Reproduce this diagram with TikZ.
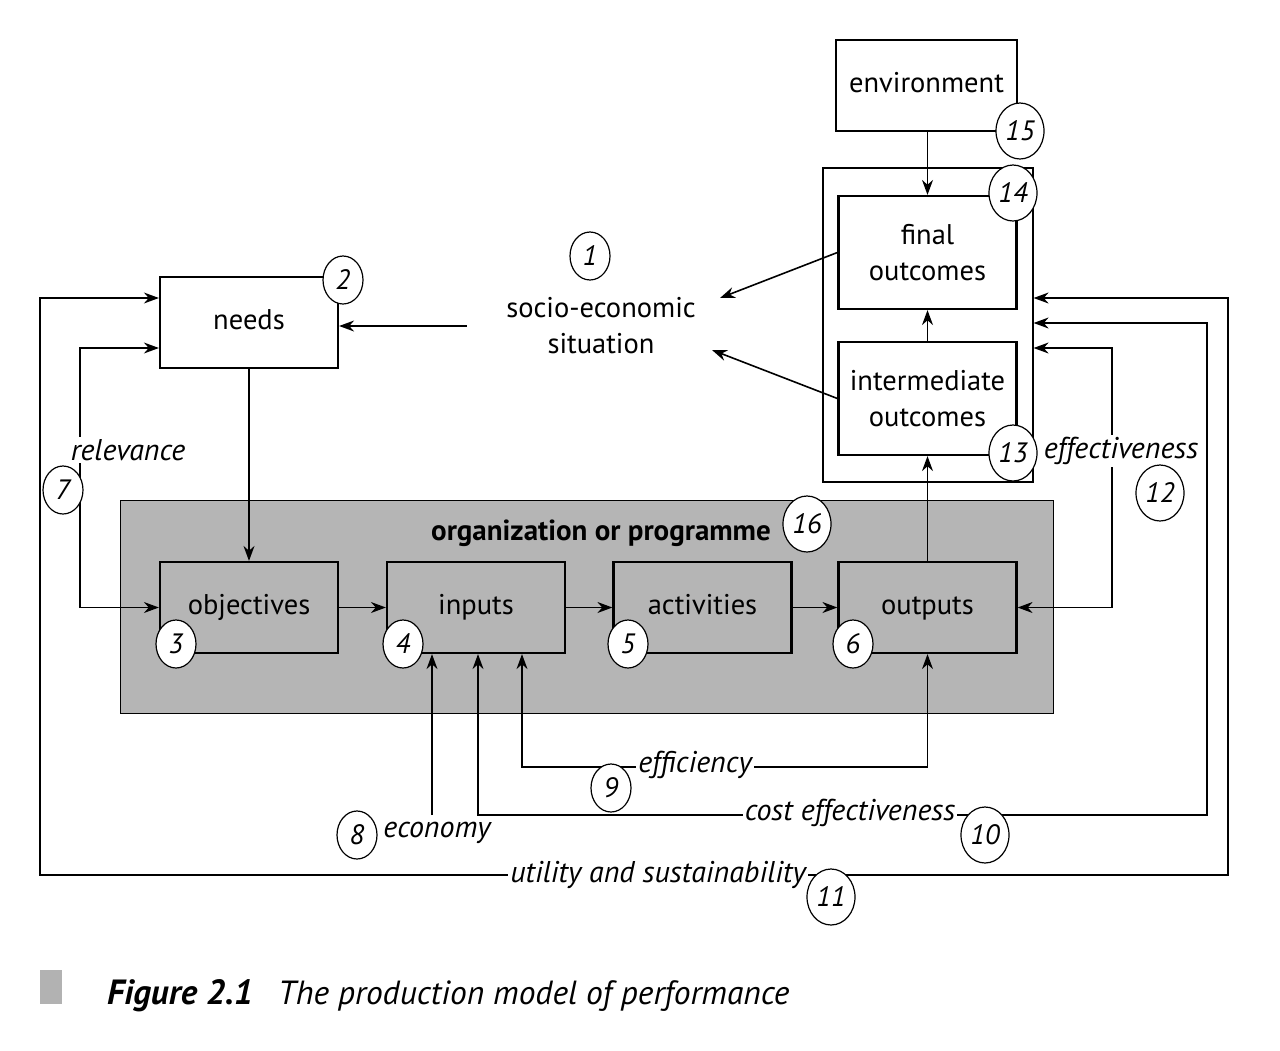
\documentclass[tikz,border=0pt]{standalone}
\usepackage{fontspec}
\setmainfont{PT Sans}
\usetikzlibrary{arrows.meta,shapes.geometric}
\begin{document}
\begin{tikzpicture}[x=1pt,y=-1pt,
  txt/.style={font=\fontsize{28.5}{36}\selectfont},
  box/.style={draw, line width=2.2pt, minimum width=178pt, minimum height=91pt, inner sep=0pt, align=center, txt},
  tall/.style={box, minimum height=113pt},
  num/.style={draw, fill=white, ellipse, line width=1.2pt, minimum width=40pt, minimum height=48pt, inner sep=0pt, font=\fontsize{28}{30}\selectfont\itshape},
  num2/.style={num, minimum width=48pt, minimum height=56pt},
  lab/.style={fill=white, inner sep=2pt, font=\fontsize{30}{32}\selectfont\itshape},
  arr/.style={line width=1.6pt, -{Stealth[length=15pt,width=11pt]}},
  darr/.style={line width=1.3pt, {Stealth[length=15pt,width=11pt]}-{Stealth[length=15pt,width=11pt]}},
]
\useasboundingbox (0,0) rectangle (1280,1050);

% organisation area
\node (org) [draw, fill=gray!58, line width=0.8pt, minimum width=933pt, minimum height=213pt, inner sep=0pt] at (586.5,606.5) {};
\node (orgt) [font=\fontsize{29}{32}\selectfont\bfseries] at (601,533) {organization or programme};

% boxes
\node (needs) [box] at (249,322.5) {needs\strut};
\node (obj) [box] at (249,607.5) {objectives\strut};
\node (inp) [box] at (476,607.5) {inputs\strut};
\node (act) [box] at (702.5,607.5) {activities\strut};
\node (outp) [box] at (927.5,607.5) {outputs\strut};
\node (env) [box, minimum width=181pt] at (926.5,85.5) {environment\strut};
\node (outbox) [draw, line width=1.2pt, minimum width=210pt, minimum height=314pt, inner sep=0pt] at (928,325) {};
\node (final) [tall] at (927.5,252.5) {final\\outcomes};
\node (inter) [tall] at (927.5,398.5) {intermediate\\outcomes};
\node (socio) [txt, align=center] at (601,326) {socio-economic\\situation};

\coordinate (sA) at (720,298);
\coordinate (sB) at (712,350);
\coordinate (eco) at (432,815);

% main connectors
\draw[arr] (env.south -| final.north) -- (final.north);
\draw[arr] (inter.north) -- (final.south);
\draw[arr] (outp.north) -- (inter.south);
\draw[arr] ([xshift=-36pt]socio.west) -- (socio.west -| needs.east);
\draw[arr] (final.west) -- (sA);
\draw[arr] (inter.west) -- (sB);
\draw[arr] (needs.south) -- (obj.north);
\draw[arr] (obj.east) -- (inp.west);
\draw[arr] (inp.east) -- (act.west);
\draw[arr] (act.east) -- (outp.west);

% feedback loops
\draw[darr] (needs.west |- 0,348) -| (obj.west -| 80,0) -- (obj.west);
\draw[darr] (needs.west |- 0,298) -| (40,875) -| (1228,298) -- (outbox.east |- 0,298);
\draw[darr] ([xshift=2pt]inp.south) |- (1207,815) |- (outbox.east |- 0,323);
\draw[darr] ([xshift=46pt]inp.south) |- (outp.south |- 0,767) -- (outp.south);
\draw[darr] (outp.east) -| (1112,348) -- (outbox.east |- 0,348);
\draw[arr, line width=1.3pt] (eco) -- (eco |- inp.south);

% labels
\node (lrel) [lab] at (128,450) {relevance};
\node (leff) [lab] at (695,765) {efficiency};
\node (lcost) [lab] at (850,813) {cost effectiveness};
\node (leco) [lab] at (437,833) {economy};
\node (lutil) [lab] at (658,875) {utility and sustainability};
\node (leffe) [lab] at (1121,451) {effectiveness};

% numbers
\node (n1) [num] at (590,256) {1};
\node (n2) [num] at (343,280) {2};
\node (n3) [num] at (176,644) {3};
\node (n4) [num] at (403,644) {4};
\node (n5) [num] at (628,644) {5};
\node (n6) [num] at (853,644) {6};
\node (n7) [num] at (63,490) {7};
\node (n8) [num] at (357,835) {8};
\node (n9) [num] at (611,788) {9};
\node (n10) [num2] at (985,835) {10};
\node (n11) [num2] at (831,897) {11};
\node (n12) [num2] at (1160,493) {12};
\node (n13) [num2] at (1013,453) {13};
\node (n14) [num2] at (1013,193) {14};
\node (n15) [num2] at (1020,131) {15};
\node (n16) [num2] at (807,524) {16};

% caption
\node (capsq) [fill=gray!60, minimum width=22pt, minimum height=34pt, inner sep=0pt] at (51,987) {};
\node (capf) [anchor=base west, inner sep=0pt, font=\fontsize{35}{40}\selectfont\bfseries\itshape] at (107,1004) {Figure 2.1};
\node (capt) [anchor=base west, inner sep=0pt, font=\fontsize{33.5}{40}\selectfont\itshape] at (278,1004) {The production model of performance};
\end{tikzpicture}
\end{document}
